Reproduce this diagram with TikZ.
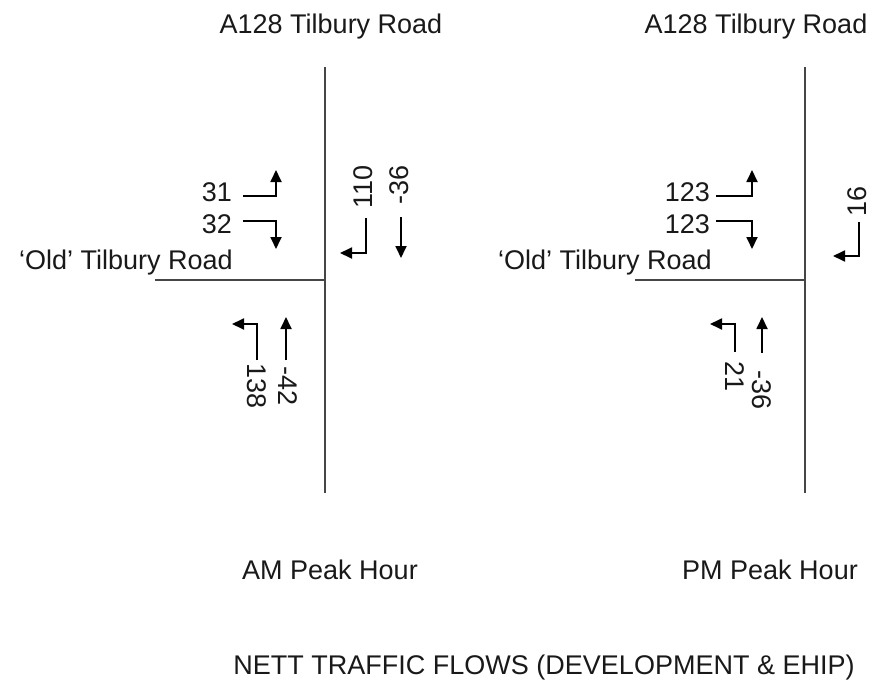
\documentclass[tikz,border=0pt]{standalone}
\usepackage{fontspec}
\setmainfont{Liberation Sans}
\usepackage{tikz}
\usetikzlibrary{arrows.meta,positioning,calc}
\definecolor{roadgrey}{RGB}{70,70,70}
\definecolor{inkdark}{RGB}{25,25,25}
\tikzset{
  road/.style={draw=roadgrey, line width=2.2pt},
  flow/.style={draw=black, line width=1.8pt, -{Triangle[length=12pt,width=11pt]}},
  lbl/.style={inner sep=1pt, text=inkdark, font=\fontsize{27}{31}\selectfont},
}

\begin{document}
\begin{tikzpicture}[x=1pt,y=-1pt]
\useasboundingbox (0,0) rectangle (872,690);

% AM peak junction
\coordinate (amN) at (325,67);
\coordinate (amS) at (325,493);
\coordinate (amJ) at (325,280);
\coordinate (amW) at (155,280);
\draw[road] (amN) -- (amS);
\draw[road] (amW) -- (amJ);
\node[lbl] (amMain) at (331,27) {A128 Tilbury Road};
\node[lbl, anchor=west] (amSide) at (18,263) {‘Old’ Tilbury Road};
\node[lbl] (amPeak) at (330,570) {AM Peak Hour};

\node[lbl, anchor=east] (am31) at (233,192) {31};
\coordinate (am31s) at (243,196);
\coordinate (am31e) at (276,170);
\draw[flow] (am31s) -| (am31e);

\node[lbl, anchor=east] (am32) at (233,224) {32};
\coordinate (am32s) at (243,221);
\coordinate (am32e) at (276,249);
\draw[flow] (am32s) -| (am32e);

\node[lbl, rotate=90] (am110) at (363,187) {110};
\coordinate (am110s) at (366,218);
\coordinate (am110e) at (340,253);
\draw[flow] (am110s) |- (am110e);

\node[lbl, rotate=90] (am36) at (399,185) {-36};
\coordinate (am36s) at (401,217);
\coordinate (am36e) at (401,258);
\draw[flow] (am36s) -- (am36e);

\node[lbl, rotate=-90] (am138) at (257,386) {138};
\coordinate (am138s) at (257,360);
\coordinate (am138e) at (232,324);
\draw[flow] (am138s) |- (am138e);

\node[lbl, rotate=-90] (am42) at (288,386) {-42};
\coordinate (am42s) at (286,360);
\coordinate (am42e) at (286,317);
\draw[flow] (am42s) -- (am42e);

% PM peak junction
\coordinate (pmN) at (805,67);
\coordinate (pmS) at (805,493);
\coordinate (pmJ) at (805,280);
\coordinate (pmW) at (635,280);
\draw[road] (pmN) -- (pmS);
\draw[road] (pmW) -- (pmJ);
\node[lbl] (pmMain) at (756,27) {A128 Tilbury Road};
\node[lbl, anchor=west] (pmSide) at (497,263) {‘Old’ Tilbury Road};
\node[lbl] (pmPeak) at (770,570) {PM Peak Hour};

\node[lbl, anchor=east] (pm123a) at (711,192) {123};
\coordinate (pm123as) at (716,196);
\coordinate (pm123ae) at (752,170);
\draw[flow] (pm123as) -| (pm123ae);

\node[lbl, anchor=east] (pm123b) at (711,224) {123};
\coordinate (pm123bs) at (716,221);
\coordinate (pm123be) at (752,249);
\draw[flow] (pm123bs) -| (pm123be);

\node[lbl, rotate=90] (pm16) at (857,201) {16};
\coordinate (pm16s) at (859,222);
\coordinate (pm16e) at (833,256);
\draw[flow] (pm16s) |- (pm16e);

\node[lbl, rotate=-90] (pm21) at (735,377) {21};
\coordinate (pm21s) at (735,352);
\coordinate (pm21e) at (710,324);
\draw[flow] (pm21s) |- (pm21e);

\node[lbl, rotate=-90] (pm36) at (762,390) {-36};
\coordinate (pm36s) at (762,353);
\coordinate (pm36e) at (762,317);
\draw[flow] (pm36s) -- (pm36e);

\node[lbl] (caption) at (544,668) {NETT TRAFFIC FLOWS (DEVELOPMENT \& EHIP)};
\end{tikzpicture}
\end{document}
